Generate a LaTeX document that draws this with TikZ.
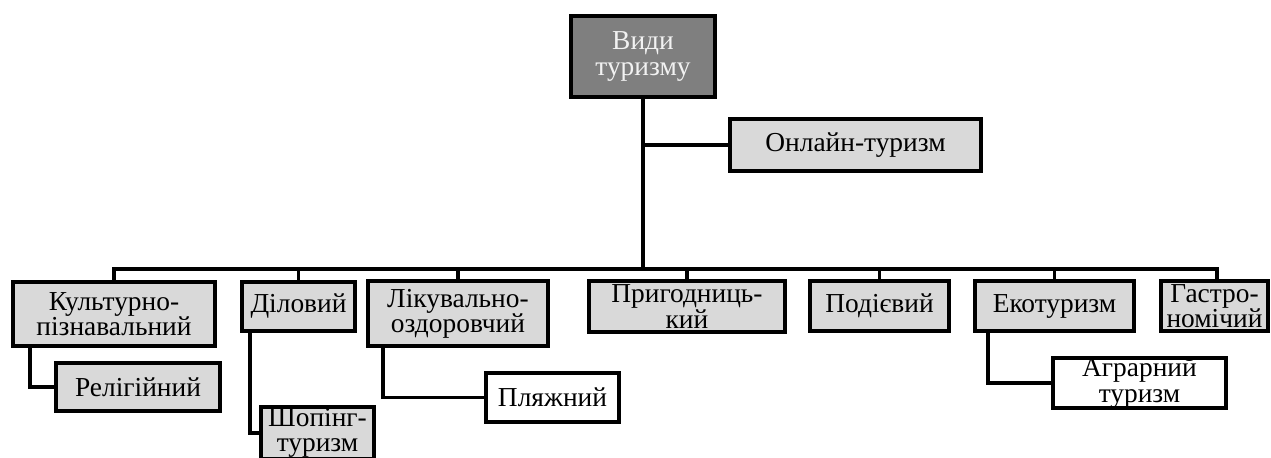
\documentclass[tikz,border=0pt]{standalone}
\usepackage{fontspec}
\setmainfont{Liberation Serif}
\newfontfamily\vidfont{Liberation Serif}
\usepackage{tikz}
\usetikzlibrary{calc}
\definecolor{boxgray}{HTML}{D9D9D9}
\definecolor{topgray}{HTML}{7F7F7F}

\begin{document}
\begin{tikzpicture}[
		vid/.style={draw, line width=2.8pt, fill=boxgray, align=center, inner sep=0pt,
			font={\vidfont\fontsize{19.5}{18}\selectfont\lineskiplimit=-6pt}},
		vidwhite/.style={vid, fill=white},
		link/.style={line width=2.8pt}
	]
			%%%%% START %%%%%
			
			\useasboundingbox (0, 0) rectangle (31.775, -11.425);
			
			\node[vid, fill=topgray, text=white!95!black, minimum width=3.6cm, minimum height=2.025cm] (vidy) at (16.075, -1.4125) {Види\\туризму};
			\node[vid, minimum width=6.275cm, minimum height=1.3cm] (onlain) at (21.3875, -3.625) {Онлайн-туризм};
			
			\node[vid, minimum width=5.05cm, minimum height=1.6cm] (kult) at (2.85, -7.85) {Культурно-\\пізнавальний};
			\node[vid, minimum width=2.825cm, minimum height=1.225cm] (dilov) at (7.4625, -7.6625) {Діловий};
			\node[vid, minimum width=4.5cm, minimum height=1.625cm] (likuv) at (11.45, -7.8375) {Лікувально-\\оздоровчий};
			\node[vid, minimum width=4.9cm, minimum height=1.275cm] (prygod) at (17.175, -7.6625) {Пригодниць-\\кий};
			\node[vid, minimum width=3.475cm, minimum height=1.25cm] (podiev) at (21.9875, -7.65) {Подієвий};
			\node[vid, minimum width=3.975cm, minimum height=1.25cm] (eko) at (26.3625, -7.65) {Екотуризм};
			\node[vid, minimum width=2.675cm, minimum height=1.25cm] (gastro) at (30.3625, -7.65) {Гастро-\\номічий};
			
			\node[vid, minimum width=4.1cm, minimum height=1.2cm] (relig) at (3.45, -9.675) {Релігійний};
			\node[vid, minimum width=2.825cm, minimum height=1.3cm] (shop) at (7.9375, -10.825) {Шопінг-\\туризм};
			\node[vidwhite, minimum width=3.325cm, minimum height=1.225cm] (plyazh) at (13.8125, -9.9375) {Пляжний};
			\node[vidwhite, minimum width=4.325cm, minimum height=1.25cm] (agrar) at (28.4875, -9.575) {Аграрний\\туризм};
			
			% trunk and bus
			\coordinate (bus) at ($(vidy.south |- 0, -6.725)$);
			\draw[link] (vidy.south) -- (bus);
			\draw[link] (onlain.west) -- (onlain.west -| vidy.south);
			\foreach \n in {kult, dilov, likuv, prygod, podiev, eko}
				\draw[link] (\n.north) |- (bus);
			\draw[link] ([xshift=0.06cm]gastro.north) |- (bus);
			
			% sub-branches
			\draw[link] ([xshift=0.475cm]kult.south west) |- (relig.west);
			\draw[link] ([xshift=0.25cm]dilov.south west) |- (shop.west);
			\draw[link] ([xshift=0.425cm]likuv.south west) |- (plyazh.west);
			\draw[link] ([xshift=0.375cm]eko.south west) |- (agrar.west);
			
			%%%%% END %%%%%
		\end{tikzpicture}
\end{document}
